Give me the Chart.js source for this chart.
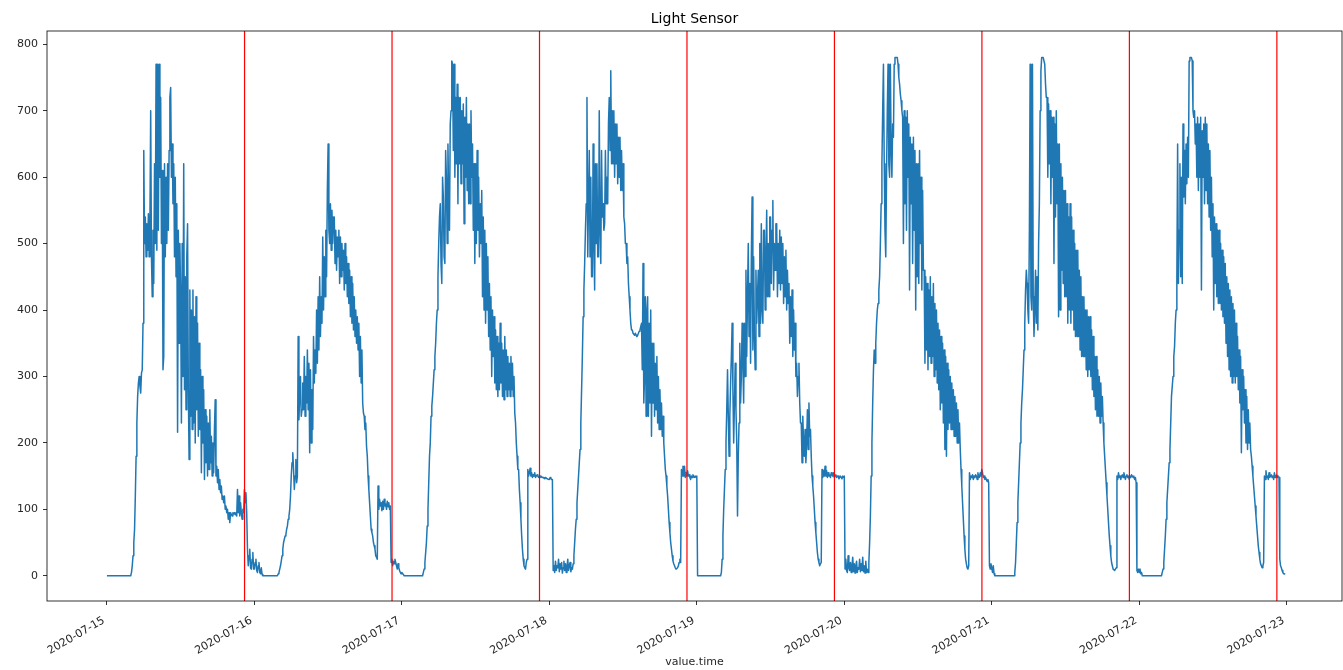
<!DOCTYPE html>
<html>
<head>
<meta charset="utf-8">
<title>Light Sensor</title>
<script src="https://cdn.jsdelivr.net/npm/chart.js@4.4.1/dist/chart.umd.min.js"></script>
<style>
  html, body { margin: 0; padding: 0; background: #fff; }
  #chart { display: block; }
</style>
</head>
<body>
<canvas id="chart" width="1343" height="670"></canvas>
<script>
// --- DATOS ---
const dayLabels = ['2020-07-15', '2020-07-16', '2020-07-17', '2020-07-18', '2020-07-19',
                   '2020-07-20', '2020-07-21', '2020-07-22', '2020-07-23'];
const yTicks = [0, 100, 200, 300, 400, 500, 600, 700, 800];
const stepHours = 0.125; // una lectura cada 7,5 min: 8 por hora, 192 por día (una fila = una hora)

const jul15 = [
    0, 0, 0, 0, 0, 0, 0, 0,
    0, 0, 0, 0, 0, 0, 0, 0,
    0, 0, 0, 0, 0, 0, 0, 0,
    0, 0, 0, 0, 0, 0, 0, 0,
    5, 15, 30, 50, 70, 120, 180, 230,
    270, 290, 300, 285, 275, 305, 310, 380,
    640, 500, 540, 480, 530, 490, 545, 480,
    530, 700, 480, 420, 520, 440, 620, 500,
    770, 490, 770, 520, 770, 600, 720, 500,
    610, 310, 330, 620, 480, 600, 500, 620,
    520, 640, 720, 735, 600, 650, 560, 620,
    480, 600, 450, 560, 216, 520, 350, 500,
    420, 230, 500, 300, 620, 280, 450, 250,
    480, 530, 280, 175, 430, 240, 400, 220,
    430, 230, 390, 200, 420, 250, 380, 210,
    350, 220, 310, 155, 300, 200, 280, 145,
    250, 170, 240, 150, 230, 160, 250, 170,
    210, 150, 200, 155, 220, 265, 150, 165,
    140, 160, 130, 145, 125, 135, 115, 120,
    110, 120, 100, 105, 95, 100, 85, 95,
    80, 95, 92, 90, 95, 93, 95, 92,
    95, 90, 130, 95, 120, 90, 110, 95,
    85, 100, 95, 130, 110, 125, 95, 40,
    15, 30, 40, 12, 10, 25, 35, 10
];
const jul16 = [
    10, 20, 25, 8, 5, 15, 20, 5,
    3, 12, 2, 0, 0, 0, 0, 0,
    0, 0, 0, 0, 0, 0, 0, 0,
    0, 0, 0, 0, 0, 0, 0, 3,
    5, 10, 15, 22, 30, 40, 50, 55,
    60, 62, 70, 75, 85, 90, 100, 120,
    150, 170, 185, 160, 130, 150, 175, 140,
    150, 360, 235, 270, 300, 240, 250, 290,
    250, 330, 240, 300, 260, 340, 250, 320,
    185, 310, 200, 280, 220, 360, 290, 340,
    305, 400, 320, 420, 340, 450, 360, 420,
    380, 510, 400, 480, 420, 520, 450, 580,
    650, 520, 500, 560, 490, 550, 500, 540,
    540, 470, 520, 460, 510, 480, 520, 440,
    510, 450, 500, 460, 490, 430, 500, 440,
    480, 420, 470, 410, 460, 390, 450, 380,
    440, 370, 420, 360, 400, 350, 390, 340,
    380, 300, 360, 290, 340, 260, 245, 240,
    220, 230, 195, 180, 150, 130, 110, 90,
    70, 65, 60, 50, 45, 40, 30, 28,
    25, 135, 100, 115, 105, 110, 98, 112,
    100, 115, 105, 108, 100, 112, 104, 110,
    100, 105, 20, 25, 15, 22, 18, 25,
    20, 15, 10, 18, 12, 8, 5, 3
];
const jul17 = [
    5, 3, 2, 0, 0, 0, 0, 0,
    0, 0, 0, 0, 0, 0, 0, 0,
    0, 0, 0, 0, 0, 0, 0, 0,
    0, 0, 0, 0, 5, 10, 20, 35,
    50, 75, 100, 140, 180, 200, 240, 255,
    270, 290, 310, 330, 350, 380, 400, 450,
    500, 540, 560, 470, 440, 600, 570, 480,
    470, 640, 600, 500, 650, 560, 520, 680,
    700, 775, 770, 640, 770, 600, 720, 620,
    740, 560, 720, 620, 720, 590, 700, 620,
    710, 530, 690, 600, 720, 580, 680, 560,
    680, 560, 700, 600, 650, 520, 620, 470,
    620, 500, 640, 520, 600, 480, 560, 500,
    580, 420, 540, 400, 520, 380, 500, 400,
    480, 360, 440, 340, 420, 300, 400, 330,
    390, 290, 370, 280, 360, 270, 350, 280,
    380, 290, 350, 270, 340, 265, 360, 280,
    340, 270, 330, 280, 320, 270, 330, 280,
    320, 270, 300, 245, 230, 200, 180, 160,
    160, 130, 110, 85, 60, 40, 25, 15,
    12, 10, 20, 25, 160, 150, 155, 162,
    150, 155, 148, 152, 150, 155, 148, 150,
    152, 150, 148, 150, 150, 148, 149, 148,
    148, 147, 146, 148, 147, 146, 146, 145
];
const jul18 = [
    145, 148, 146, 145, 145, 8, 15, 5,
    22, 8, 15, 12, 25, 6, 18, 10,
    20, 4, 12, 22, 8, 18, 5, 14,
    25, 8, 15, 20, 6, 12, 10, 18,
    30, 50, 70, 85, 110, 130, 150, 170,
    190, 230, 280, 330, 390, 430, 470, 520,
    560, 720, 480, 560, 640, 480, 600, 450,
    450, 650, 500, 430, 620, 500, 620, 480,
    480, 700, 520, 470, 640, 540, 560, 520,
    530, 640, 560, 600, 560, 680, 720, 640,
    760, 620, 700, 620, 700, 600, 680, 620,
    680, 590, 660, 600, 660, 580, 640, 580,
    620, 540, 530, 500, 500, 470, 480, 440,
    420, 400, 380, 370, 370, 365, 365, 362,
    365, 362, 360, 362, 365, 368, 370, 375,
    380, 310, 470, 260, 300, 420, 240, 400,
    420, 240, 380, 260, 400, 210, 350, 260,
    350, 240, 320, 250, 330, 230, 300, 220,
    280, 220, 260, 210, 240, 200, 180, 160,
    150, 135, 120, 100, 80, 65, 50, 40,
    30, 22, 18, 15, 12, 10, 10, 12,
    15, 20, 25, 20, 160, 150, 165, 150,
    165, 148, 155, 150, 158, 150, 152, 148,
    145, 150, 148, 152, 150, 148, 150, 148
];
const jul19 = [
    150, 0, 0, 0, 0, 0, 0, 0,
    0, 0, 0, 0, 0, 0, 0, 0,
    0, 0, 0, 0, 0, 0, 0, 0,
    0, 0, 0, 0, 0, 0, 0, 0,
    5, 25, 60, 100, 130, 160, 200, 250,
    310, 240, 180, 240, 290, 330, 380, 280,
    200, 260, 320, 250, 200, 90, 180, 230,
    350, 260, 300, 380, 320, 260, 380, 300,
    460, 330, 420, 500, 360, 440, 320, 480,
    570, 340, 480, 360, 310, 460, 380, 420,
    460, 360, 500, 380, 530, 400, 380, 520,
    520, 400, 480, 550, 420, 500, 420, 540,
    540, 440, 520, 565, 430, 500, 460, 530,
    530, 420, 500, 440, 520, 430, 510, 440,
    500, 410, 480, 420, 490, 400, 460, 410,
    440, 350, 420, 360, 430, 330, 400, 340,
    380, 300, 320, 270, 300, 320, 260, 230,
    230, 170, 240, 200, 180, 220, 170, 200,
    250, 190, 260, 210, 220, 180, 150, 135,
    120, 100, 80, 65, 50, 35, 25, 20,
    15, 18, 20, 160, 148, 158, 150, 165,
    150, 158, 148, 155, 150, 152, 148, 155,
    152, 150, 155, 148, 150, 152, 148, 150,
    150, 146, 148, 150, 148, 146, 150, 148
];
const jul20 = [
    150, 10, 25, 8, 5, 30, 12, 8,
    20, 5, 15, 28, 6, 18, 4, 15,
    22, 5, 12, 10, 25, 6, 18, 8,
    28, 6, 15, 4, 22, 5, 10, 5,
    20, 50, 90, 150, 200, 260, 310, 340,
    320, 350, 380, 400, 410, 430, 450, 500,
    560, 620, 700, 770, 620, 520, 480, 600,
    700, 770, 620, 600, 770, 640, 600, 680,
    660, 770, 780, 780, 780, 780, 770, 750,
    740, 725, 715, 700, 690, 500, 700, 560,
    690, 520, 700, 600, 680, 430, 660, 560,
    650, 470, 660, 520, 640, 400, 620, 450,
    620, 440, 640, 500, 600, 430, 580, 460,
    460, 320, 450, 340, 440, 310, 430, 330,
    450, 320, 420, 330, 440, 300, 410, 310,
    400, 290, 380, 280, 370, 250, 360, 260,
    350, 230, 340, 190, 330, 180, 320, 220,
    310, 230, 300, 220, 290, 220, 280, 210,
    270, 210, 260, 200, 250, 200, 230, 190,
    160, 135, 110, 85, 60, 40, 25, 18,
    12, 10, 15, 155, 145, 150, 148, 152,
    145, 150, 148, 152, 150, 145, 155, 148,
    148, 155, 150, 160, 155, 148, 150, 145,
    148, 145, 142, 145, 140, 15, 10, 18
];
const jul21 = [
    12, 5, 15, 3, 0, 0, 0, 0,
    0, 0, 0, 0, 0, 0, 0, 0,
    0, 0, 0, 0, 0, 0, 0, 0,
    0, 0, 0, 0, 0, 0, 5, 20,
    50, 80, 110, 140, 170, 200, 230, 260,
    280, 310, 340, 380, 430, 460, 440, 400,
    380, 520, 770, 420, 400, 770, 420, 360,
    400, 460, 380, 450, 370, 500, 560, 700,
    760, 780, 780, 780, 780, 770, 740, 720,
    720, 600, 710, 620, 700, 560, 690, 600,
    690, 470, 680, 540, 700, 560, 650, 390,
    650, 400, 620, 460, 600, 440, 580, 420,
    580, 420, 560, 380, 540, 400, 560, 380,
    540, 400, 520, 370, 500, 360, 490, 360,
    490, 360, 460, 340, 450, 330, 420, 330,
    420, 330, 400, 310, 400, 300, 390, 310,
    390, 300, 370, 280, 360, 270, 330, 250,
    330, 240, 310, 240, 300, 230, 290, 240,
    270, 230, 200, 180, 160, 140, 120, 100,
    80, 60, 45, 30, 20, 15, 10, 10,
    8, 10, 12, 150, 145, 155, 148, 150,
    145, 150, 152, 148, 155, 150, 145, 150,
    152, 148, 150, 145, 150, 148, 152, 150,
    148, 150, 145, 148, 140, 8, 5, 10
];
const jul22 = [
    5, 10, 3, 5, 0, 0, 0, 0,
    0, 0, 0, 0, 0, 0, 0, 0,
    0, 0, 0, 0, 0, 0, 0, 0,
    0, 0, 0, 0, 0, 0, 5, 10,
    20, 40, 60, 85, 110, 130, 150, 170,
    190, 230, 270, 285, 300, 330, 345, 380,
    400, 450, 650, 440, 520, 620, 450, 600,
    440, 680, 570, 640, 560, 650, 590, 660,
    600, 775, 780, 780, 780, 775, 700, 690,
    700, 650, 680, 600, 690, 580, 680, 600,
    690, 430, 670, 600, 680, 560, 690, 580,
    680, 560, 650, 540, 640, 520, 600, 480,
    560, 400, 540, 440, 530, 420, 520, 410,
    520, 410, 500, 400, 490, 390, 480, 380,
    470, 350, 450, 330, 440, 310, 430, 300,
    420, 290, 410, 300, 400, 290, 380, 300,
    360, 280, 340, 260, 330, 185, 310, 250,
    300, 230, 280, 200, 270, 190, 250, 200,
    230, 190, 180, 165, 150, 135, 120, 105,
    90, 75, 60, 45, 35, 25, 18, 15,
    12, 15, 20, 150, 145, 158, 148, 150,
    145, 155, 148, 150, 152, 148, 150, 145,
    155, 148, 150, 152, 148, 150, 148, 25,
    15, 12, 8, 5, 3, 3, 2, 2
];
const days = [jul15, jul16, jul17, jul18, jul19, jul20, jul21, jul22];

// líneas rojas verticales (horas desde 2020-07-15 00:00, cada día a las 22:24)
const redLineHours = [22.4, 46.4, 70.4, 94.4, 118.4, 142.4, 166.4, 190.4];

// --- LÍMITES DE EJES ---
const xMin = -9.75, xMax = 201;
const yMin = -38, yMax = 820;

const points = [];
days.forEach((vals, d) => {
    vals.forEach((v, i) => points.push({ x: d * 24 + i * stepHours, y: v }));
});

const font = { family: 'DejaVu Sans', size: 11 };
const textColor = '#262626';

// marco completo alrededor del área del gráfico
const frame = {
    id: 'frame',
    afterDraw(chart) {
        const { ctx, chartArea: a } = chart;
        ctx.save();
        ctx.strokeStyle = '#000';
        ctx.lineWidth = 0.8;
        ctx.strokeRect(a.left, a.top, a.right - a.left, a.bottom - a.top);
        ctx.restore();
    }
};

const redSets = redLineHours.map(h => ({
    data: [{ x: h, y: yMin }, { x: h, y: yMax }],
    borderColor: '#ff0000',
    borderWidth: 1.2,
    pointRadius: 0,
    order: 0
}));

new Chart(document.getElementById('chart'), {
    type: 'line',
    data: {
        datasets: [
            ...redSets,
            {
                data: points,
                borderColor: '#1f77b4',
                borderWidth: 1.5,
                borderJoinStyle: 'round',
                pointRadius: 0,
                tension: 0,
                order: 1
            }
        ]
    },
    options: {
        responsive: false,
        animation: false,
        layout: { padding: { right: 1 } },
        plugins: {
            legend: { display: false },
            tooltip: { enabled: false },
            title: {
                display: true,
                fullSize: false, // centrado sobre el área del gráfico
                text: 'Light Sensor',
                color: '#000',
                font: { family: 'DejaVu Sans', size: 14, weight: 'normal', lineHeight: 1.2 },
                padding: { top: 11, bottom: 3.2 }
            }
        },
        scales: {
            x: {
                type: 'linear',
                min: xMin,
                max: xMax,
                afterBuildTicks: s => { s.ticks = dayLabels.map((_, i) => ({ value: i * 24 })); },
                afterFit: s => { s.height = 69; },
                ticks: {
                    callback: v => dayLabels[Math.round(v / 24)],
                    minRotation: 30,
                    maxRotation: 30,
                    autoSkip: false,
                    color: textColor,
                    font,
                    padding: 9,
                    labelOffset: -3
                },
                grid: { drawOnChartArea: false, drawTicks: true, tickLength: 4, color: '#000', lineWidth: 0.8 },
                border: { display: false },
                title: {
                    display: true,
                    text: 'value.time',
                    color: textColor,
                    font,
                    padding: { top: 0, bottom: 1 }
                }
            },
            y: {
                type: 'linear',
                min: yMin,
                max: yMax,
                afterBuildTicks: s => { s.ticks = yTicks.map(v => ({ value: v })); },
                afterFit: s => { s.width = 47; },
                ticks: { color: textColor, font, padding: 5 },
                grid: { drawOnChartArea: false, drawTicks: true, tickLength: 4, color: '#000', lineWidth: 0.8 },
                border: { display: false }
            }
        }
    },
    plugins: [frame]
});
</script>
</body>
</html>
